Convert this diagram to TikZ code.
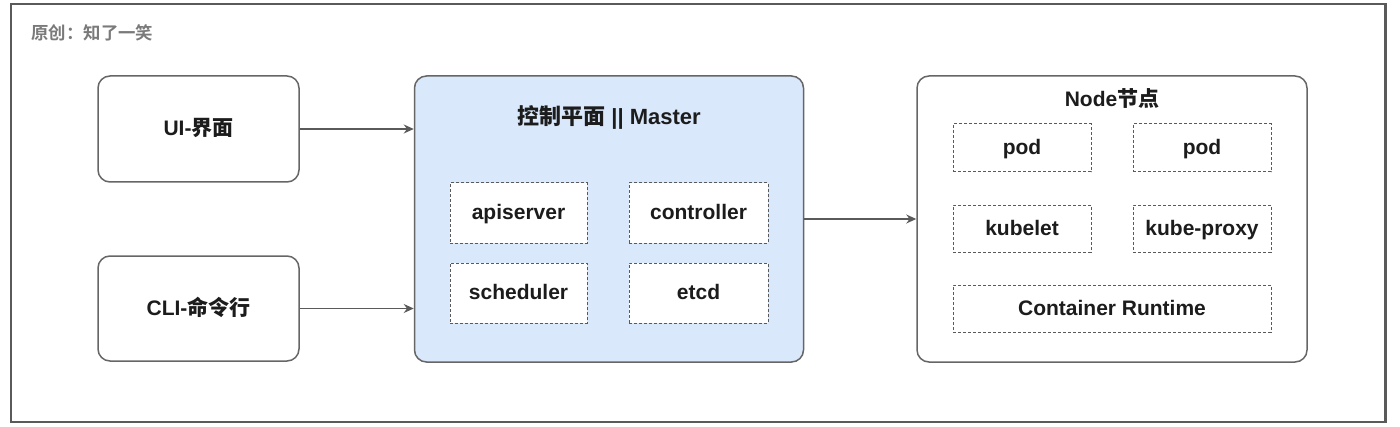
\documentclass[tikz,border=0pt]{standalone}
\usepackage{fontspec}
\setmainfont{Liberation Sans}
\newfontfamily\cjk{Noto Sans CJK SC Bold}
\usetikzlibrary{arrows.meta}
\definecolor{framec}{HTML}{5A5A5A}
\definecolor{linec}{HTML}{666666}
\definecolor{txt}{HTML}{1C1C1C}
\definecolor{masterfill}{HTML}{DAE8FC}
\definecolor{graytxt}{HTML}{7A7A7A}
\tikzset{
  rbox/.style={draw=linec, line width=0.75pt, rounded corners=6pt, fill=white, inner sep=0pt},
  dbox/.style={draw=framec, line width=0.5pt, dash pattern=on 1.5pt off 1pt, fill=white, inner sep=0pt, font=\bfseries\fontsize{10.5}{12}\selectfont, text=txt, text height=0.86em, text depth=0.2em},
  lbl/.style={font=\bfseries\fontsize{10.5}{12}\selectfont, text=txt, text height=0.86em, text depth=0.2em},
  conn/.style={draw=framec, line width=0.6pt, -{Stealth[length=5pt,width=4.5pt]}},
}
\begin{document}
\begin{tikzpicture}[x=0.5pt,y=-0.5pt]
\useasboundingbox (0,0) rectangle (1400,427);
\fill[white] (0,0) rectangle (1400,427);
\draw[framec, line width=1.3pt] (11,4) rectangle (1385.5,422);
\node[anchor=west, text=graytxt, font=\cjk\fontsize{8.7}{10}\selectfont, inner sep=0pt] (credit) at (31,33) {原创：知了一笑};

% left boxes
\node[rbox, minimum width=100.5pt, minimum height=53pt, lbl] (ui) at (198.5,129) {UI-{\cjk 界面}};
\node[rbox, minimum width=100.5pt, minimum height=52.5pt, lbl] (cli) at (198.5,308.5) {CLI-{\cjk 命令行}};

% master
\node[rbox, fill=masterfill, minimum width=194.5pt, minimum height=143pt] (master) at (609,219) {};
\node[lbl, font=\bfseries\fontsize{11}{12}\selectfont] (mtitle) at (609,118) {{\cjk 控制平面} || Master};
\node[dbox, minimum width=68.5pt, minimum height=30pt] (api) at (518.5,213) {apiserver};
\node[dbox, minimum width=69.5pt, minimum height=30pt] (ctrl) at (698.5,213) {controller};
\node[dbox, minimum width=68.5pt, minimum height=30pt] (sched) at (518.5,293) {scheduler};
\node[dbox, minimum width=69.5pt, minimum height=30pt] (etcd) at (698.5,293) {etcd};

% node
\node[rbox, minimum width=195pt, minimum height=143pt] (wnode) at (1112,219) {};
\node[lbl] (ntitle) at (1112,100) {Node{\cjk 节点}};
\node[dbox, minimum width=69pt, minimum height=24pt] (pod1) at (1022,148) {pod};
\node[dbox, minimum width=69pt, minimum height=24pt] (pod2) at (1202,148) {pod};
\node[dbox, minimum width=69pt, minimum height=23.5pt] (kubelet) at (1022,228.5) {kubelet};
\node[dbox, minimum width=69pt, minimum height=23.5pt] (kproxy) at (1202,228.5) {kube-proxy};
\node[dbox, minimum width=159pt, minimum height=23.5pt] (crt) at (1112,308.5) {Container Runtime};

% connectors
\draw[conn] (ui.east) -- (ui.east -| master.west);
\draw[conn] (cli.east) -- (cli.east -| master.west);
\draw[conn] (master.east) -- (wnode.west);
\end{tikzpicture}
\end{document}
